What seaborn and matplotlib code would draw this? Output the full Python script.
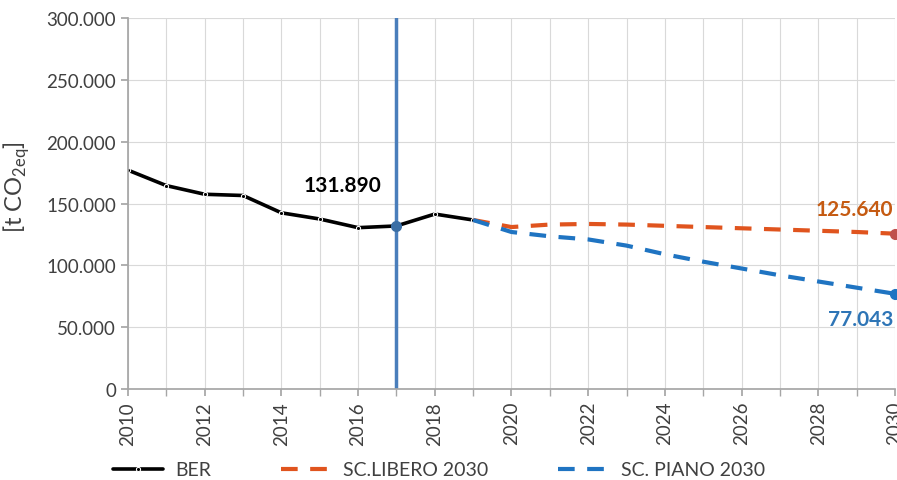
import matplotlib
matplotlib.use("Agg")
import matplotlib.pyplot as plt
import seaborn as sns
import pandas as pd
from matplotlib.ticker import FuncFormatter, MultipleLocator

years_ber = [2010, 2011, 2012, 2013, 2014, 2015, 2016, 2017, 2018, 2019]
ber = [177000, 164500, 157500, 156500, 142500, 137500, 130500, 131890, 141500, 136700]

years_sc = list(range(2019, 2031))
libero = [136700, 131000, 133000, 133500, 133000, 132000, 131000, 130000, 129000, 128000, 127000, 125640]
piano = [136700, 127000, 123500, 121000, 116000, 109000, 103000, 97500, 92000, 87000, 82000, 77043]

ref_year = 2017
labels = ["BER", "SC.LIBERO 2030", "SC. PIANO 2030"]
colors = ["#000000", "#E0541E", "#1F74C2"]

sns.set_theme(style="white")
plt.rcParams['font.family'] = ['Lato', 'DejaVu Sans']

df = pd.concat([
    pd.DataFrame({"year": years_ber, "val": ber, "s": labels[0]}),
    pd.DataFrame({"year": years_sc, "val": libero, "s": labels[1]}),
    pd.DataFrame({"year": years_sc, "val": piano, "s": labels[2]}),
])

fig = plt.figure(figsize=(8.97, 4.81), dpi=100)
ax = fig.add_axes([0.1427, 0.189, 0.855, 0.7715])

ax.grid(True, color="#D9D9D9", linewidth=0.8)
ax.set_axisbelow(True)

d = df[df.s == labels[0]]
sns.lineplot(data=d, x="year", y="val", ax=ax, color=colors[0], linewidth=2.6,
             marker="o", markersize=3, label=labels[0])
d = df[df.s == labels[1]]
sns.lineplot(data=d, x="year", y="val", ax=ax, color=colors[1], linewidth=3,
             label=labels[1])
ax.lines[-1].set_dashes([4, 3])
d = df[df.s == labels[2]]
sns.lineplot(data=d, x="year", y="val", ax=ax, color=colors[2], linewidth=3,
             label=labels[2])
ax.lines[-1].set_dashes([4, 3])

ax.axvline(ref_year, color="#4A7EBB", linewidth=2.5, zorder=1)
ax.plot([years_ber[7]], [ber[7]], "o", color="#3A6EA5", markersize=7, zorder=4)
ax.plot([years_sc[-1]], [libero[-1]], "o", color="#C0504D", markersize=7, clip_on=False, zorder=5)
ax.plot([years_sc[-1]], [piano[-1]], "o", color="#1F74C2", markersize=7, clip_on=False, zorder=5)

fmt = lambda v: f"{v:,.0f}".replace(",", ".")
ax.text(2015.6, ber[7] + 33000, fmt(ber[7]), ha="center", va="center",
        fontsize=15, fontweight="bold", color="#000000")
ax.text(2029.95, libero[-1] + 20000, fmt(libero[-1]), ha="right", va="center",
        fontsize=15, fontweight="bold", color="#C55A11")
ax.text(2029.95, piano[-1] - 20500, fmt(piano[-1]), ha="right", va="center",
        fontsize=15, fontweight="bold", color="#2E75B6")

ax.set_xlim(2010, 2030)
ax.set_ylim(0, 300000)
ax.yaxis.set_major_locator(MultipleLocator(50000))
ax.yaxis.set_major_formatter(FuncFormatter(lambda v, p: fmt(v)))
ax.xaxis.set_major_locator(MultipleLocator(2))
ax.xaxis.set_minor_locator(MultipleLocator(1))
ax.grid(True, which="minor", axis="x", color="#D9D9D9", linewidth=0.8)
ax.tick_params(axis="x", which="both", direction="out", length=5, color="#A6A6A6", bottom=True)
ax.tick_params(axis="y", length=5, color="#A6A6A6", left=True)
for lab in ax.get_xticklabels():
    lab.set_rotation(90)
ax.tick_params(axis="both", labelsize=13.5, labelcolor="#404040")
ax.set_xlabel("")
ax.set_ylabel(r"[t CO$_{\mathregular{2eq}}$]", fontsize=17, color="#404040")
ax.yaxis.set_label_coords(-0.125, 0.547)

for s in ["top", "right"]:
    ax.spines[s].set_visible(False)
for s in ["left", "bottom"]:
    ax.spines[s].set_color("#A6A6A6")

ax.legend(loc="center left", bbox_to_anchor=(-0.03, -0.218), ncol=3, frameon=False,
          fontsize=14, handlelength=2.6, columnspacing=3.6, labelcolor="#404040",
          borderaxespad=0, handletextpad=0.6)

fig.savefig("out.png", dpi=100)
